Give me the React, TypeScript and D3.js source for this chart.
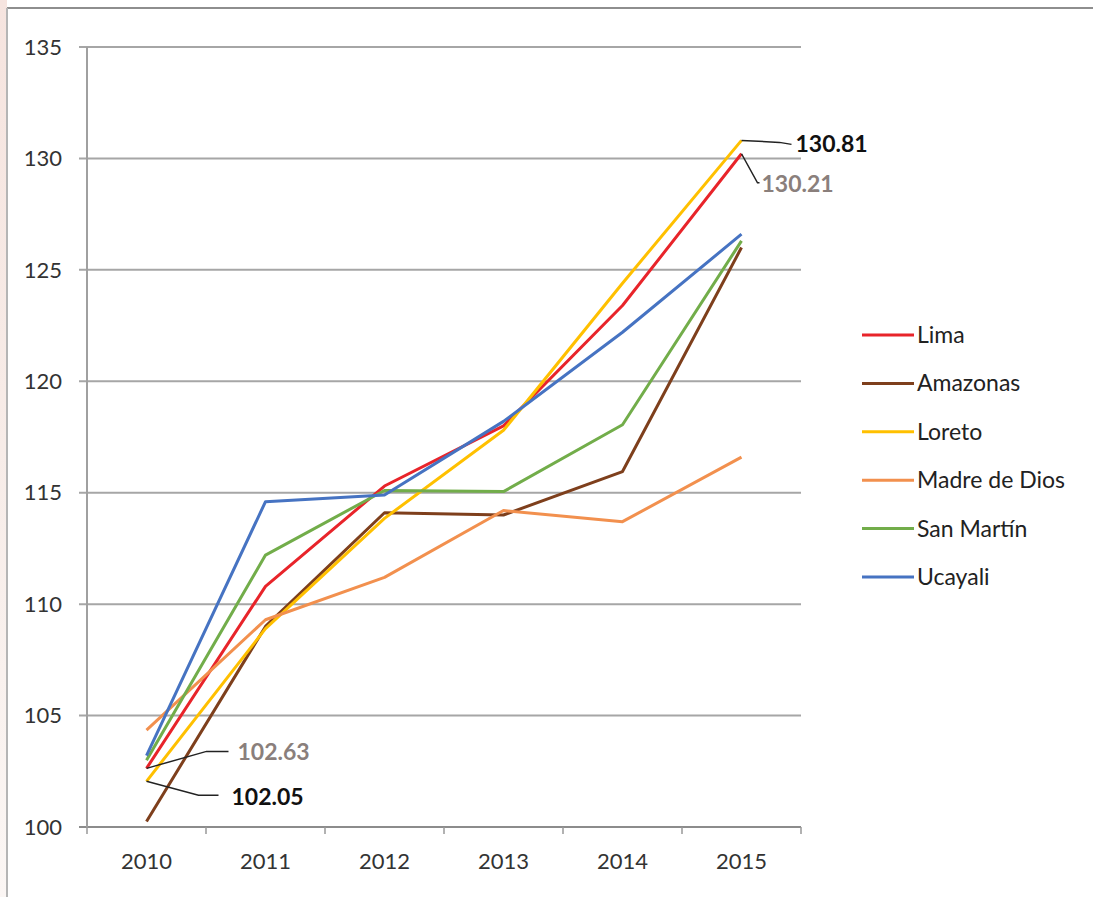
import React from "react";
import * as d3 from "d3";

const years = ["2010", "2011", "2012", "2013", "2014", "2015"];
const yTicks = [100, 105, 110, 115, 120, 125, 130, 135];

const lima = [102.63, 110.8, 115.3, 118.0, 123.4, 130.21];
const amazonas = [100.25, 109.0, 114.1, 114.0, 115.95, 126.0];
const loreto = [102.05, 108.9, 113.85, 117.8, 124.4, 130.81];
const madreDeDios = [104.35, 109.3, 111.2, 114.2, 113.7, 116.6];
const sanMartin = [103.0, 112.2, 115.1, 115.05, 118.05, 126.3];
const ucayali = [103.2, 114.6, 114.9, 118.2, 122.2, 126.6];

const seriesNames = ["Lima", "Amazonas", "Loreto", "Madre de Dios", "San Martín", "Ucayali"];
const seriesValues = [lima, amazonas, loreto, madreDeDios, sanMartin, ucayali];
const seriesColors = ["#e8242a", "#7e3f1c", "#ffc000", "#f2904e", "#72ad4a", "#4673c2"];

// labelled points, with the leader line offsets
const callouts = [
    { s: 2, i: 5, text: "130.81", color: "#111", dx: 50, dy: 4, tx: 54, ty: 12, elbow: [38, 2] },
    { s: 0, i: 5, text: "130.21", color: "#8a7f7c", dx: 18, dy: 29, tx: 20, ty: 38, elbow: [16, 29] },
    { s: 0, i: 0, text: "102.63", color: "#8a7f7c", dx: 82, dy: -17, tx: 91, ty: -8, elbow: [60, -17] },
    { s: 2, i: 0, text: "102.05", color: "#111", dx: 72, dy: 14, tx: 85, ty: 24, elbow: [52, 14] },
];

const font = "Lato, 'Open Sans', sans-serif";

export default function App() {
    const W = 1093;
    const H = 897;
    const left = 87;
    const right = 801;
    const top = 47;
    const bottom = 827;

    const x = d3.scaleBand<string>().domain(years).range([left, right]);
    const y = d3.scaleLinear().domain([100, 135]).range([bottom, top]);
    const cx = (yr: string) => (x(yr) ?? 0) + x.bandwidth() / 2;

    const line = d3.line<number>()
        .x((_, i) => cx(years[i]))
        .y(d => y(d));

    const legendX = 862;
    const legendY0 = 335;
    const legendStep = 48.4;

    return (
        <svg
            width={W}
            height={H}
            style={{ position: "fixed", left: 0, top: 0, background: "#fff" }}
        >
            <defs>
                <linearGradient id="edge" x1="0" y1="0" x2="0" y2="1">
                    <stop offset="0" stopColor="#f6e4df" />
                    <stop offset="0.5" stopColor="#f7ece8" />
                    <stop offset="1" stopColor="#fbf6f4" />
                </linearGradient>
            </defs>
            <rect x={0} y={0} width={7} height={H} fill="url(#edge)" />
            <line x1={7} x2={W} y1={8} y2={8} stroke="#8e8e8e" strokeWidth={2} />
            <line x1={7} x2={7} y1={8} y2={H} stroke="#b5b5b5" strokeWidth={2} />

            {/* gridlines and y ticks */}
            {yTicks.map(t => (
                <g key={t}>
                    <line x1={left - 8} x2={right} y1={y(t)} y2={y(t)}
                          stroke={t === 100 ? "#8c8c8c" : "#a6a6a6"} strokeWidth={2} />
                    <text x={62} y={y(t)} dy="0.35em" textAnchor="end"
                          fontFamily={font} fontSize={22} fill="#333">{t}</text>
                </g>
            ))}
            <line x1={left} x2={left} y1={top} y2={bottom} stroke="#a0a0a0" strokeWidth={2} />

            {/* x ticks */}
            {years.map((yr, i) => (
                <g key={yr}>
                    <line x1={x(yr)} x2={x(yr)} y1={bottom} y2={bottom + 7} stroke="#999" strokeWidth={1.5} />
                    {i === years.length - 1 && (
                        <line x1={right} x2={right} y1={bottom} y2={bottom + 7} stroke="#999" strokeWidth={1.5} />
                    )}
                    <text x={cx(yr)} y={bottom + 42} textAnchor="middle"
                          fontFamily={font} fontSize={22} fill="#333">{yr}</text>
                </g>
            ))}

            {/* series */}
            {seriesValues.map((vals, k) => (
                <path key={seriesNames[k]} d={line(vals) ?? ""} fill="none"
                      stroke={seriesColors[k]} strokeWidth={3} strokeLinejoin="round" />
            ))}

            {/* callouts */}
            {callouts.map(c => {
                const px = cx(years[c.i]);
                const py = y(seriesValues[c.s][c.i]);
                return (
                    <g key={c.text}>
                        <path
                            d={`M${px},${py} L${px + c.elbow[0]},${py + c.elbow[1]} L${px + c.dx},${py + c.dy}`}
                            fill="none" stroke="#222" strokeWidth={1.5} />
                        <text x={px + c.tx} y={py + c.ty} fontFamily={font} fontSize={23}
                              fontWeight="bold" fill={c.color}>{c.text}</text>
                    </g>
                );
            })}

            {/* legend */}
            {seriesNames.map((name, k) => (
                <g key={name} transform={`translate(${legendX},${legendY0 + k * legendStep})`}>
                    <line x1={0} x2={52} y1={0} y2={0} stroke={seriesColors[k]} strokeWidth={3} />
                    <text x={55} y={0} dy="0.35em" fontFamily={font} fontSize={23} fill="#222">{name}</text>
                </g>
            ))}
        </svg>
    );
}
